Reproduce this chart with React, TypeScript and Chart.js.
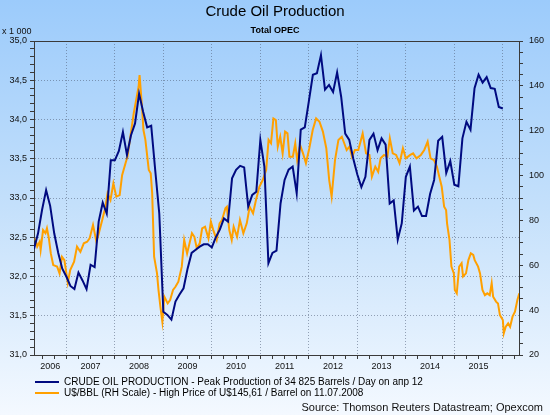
import React, { useEffect, useRef } from 'react';
import { Chart, registerables } from 'chart.js';

Chart.register(...registerables);

const FONT = "'Liberation Sans', Arial, Helvetica, sans-serif";

const TITLE = 'Crude Oil Production';
const SUBTITLE = 'Total OPEC';
const UNIT_LABEL = 'x 1 000';
const SOURCE = 'Source: Thomson Reuters Datastream; Opexcom';
const PROD_LABEL = 'CRUDE OIL PRODUCTION - Peak Production of 34 825 Barrels / Day on апр 12';
const PRICE_LABEL = 'U$/BBL (RH Scale) - High Price of U$145,61 / Barrel on 11.07.2008';

const yearLabels = [2006, 2007, 2008, 2009, 2010, 2011, 2012, 2013, 2014, 2015];
const X_MIN = 2006 + 4 / 12;
const X_MAX = 2016 + 4 / 12;

// monthly OPEC crude production (x 1 000 barrels/day), starting May 2006
const productionStartYear = 2006;
const productionStartMonth = 5;
const production = [
  32.35, 32.55, 32.85, 33.1, 32.9, 32.55, 32.3, 32.1, 32.0, 31.88,
  31.84, 32.05, 31.95, 31.84, 32.15, 32.12, 32.7, 32.94, 32.8, 33.48,
  33.48, 33.6, 33.84, 33.55, 33.8, 33.95, 34.33, 34.1, 33.9, 33.92,
  33.35, 32.8, 31.55, 31.51, 31.45, 31.68, 31.77, 31.85, 32.1, 32.3,
  32.34, 32.38, 32.41, 32.41, 32.37, 32.5, 32.6, 32.74, 32.7, 33.25,
  33.36, 33.41, 33.39, 32.89, 33.04, 33.08, 33.74, 33.4, 32.17, 32.3,
  32.33, 32.93, 33.23, 33.36, 33.4, 33.06, 33.87, 33.9, 34.23, 34.57,
  34.59, 34.82, 34.38, 34.44, 34.35, 34.6, 34.29, 33.82, 33.74, 33.5,
  33.3, 33.14, 33.27, 33.74, 33.82, 33.61, 33.76, 33.68, 32.93, 32.97,
  32.47, 32.68, 33.27, 33.4, 32.84, 32.89, 32.77, 32.77, 33.05, 33.23,
  33.73, 33.78, 33.32, 33.47, 33.17, 33.15, 33.76, 33.97, 33.87, 34.4,
  34.57, 34.47, 34.54, 34.4, 34.39, 34.16, 34.14,
];

// oil price U$/BBL (right-hand scale), dates as decimal years
const priceDates = [
  2006.36, 2006.40, 2006.45, 2006.47, 2006.52, 2006.57, 2006.60, 2006.64, 2006.68, 2006.73, 2006.81, 2006.86, 2006.91, 2006.96,
  2007.03, 2007.08, 2007.16, 2007.22, 2007.29, 2007.36, 2007.43, 2007.48, 2007.55, 2007.62, 2007.67, 2007.74, 2007.80, 2007.85, 2007.91, 2007.97,
  2008.03, 2008.10, 2008.15, 2008.22, 2008.26, 2008.32, 2008.39, 2008.44, 2008.49, 2008.51, 2008.56, 2008.59, 2008.63, 2008.70, 2008.74, 2008.77, 2008.81, 2008.87, 2008.90, 2008.94, 2008.98,
  2009.02, 2009.09, 2009.14, 2009.20, 2009.25, 2009.31, 2009.38, 2009.43, 2009.49, 2009.54, 2009.59, 2009.64, 2009.69, 2009.75, 2009.80, 2009.86, 2009.93, 2009.98,
  2010.03, 2010.10, 2010.16, 2010.21, 2010.28, 2010.31, 2010.36, 2010.41, 2010.45, 2010.52, 2010.58, 2010.65, 2010.72, 2010.78, 2010.85, 2010.91, 2010.98,
  2011.05, 2011.12, 2011.17, 2011.22, 2011.27, 2011.32, 2011.36, 2011.41, 2011.46, 2011.51, 2011.56, 2011.60, 2011.67, 2011.72, 2011.76, 2011.82, 2011.88, 2011.94,
  2012.01, 2012.08, 2012.15, 2012.22, 2012.29, 2012.36, 2012.42, 2012.47, 2012.54, 2012.61, 2012.68, 2012.73, 2012.78, 2012.84, 2012.89, 2012.95,
  2013.02, 2013.11, 2013.18, 2013.25, 2013.30, 2013.37, 2013.43, 2013.48, 2013.55, 2013.62, 2013.67, 2013.73, 2013.80, 2013.87, 2013.94,
  2014.00, 2014.09, 2014.15, 2014.22, 2014.31, 2014.38, 2014.45, 2014.51, 2014.58, 2014.64, 2014.69, 2014.74, 2014.79, 2014.83, 2014.85, 2014.90, 2014.94, 2014.99,
  2015.01, 2015.05, 2015.10, 2015.15, 2015.18, 2015.24, 2015.29, 2015.34, 2015.39, 2015.42, 2015.49, 2015.53, 2015.58, 2015.63, 2015.68, 2015.73, 2015.77, 2015.80, 2015.86, 2015.90, 2015.94,
  2016.00, 2016.02, 2016.06, 2016.11, 2016.15, 2016.20, 2016.25, 2016.30, 2016.34,
];
const priceValues = [
  72.0, 68.3, 70.5, 66.8, 75.7, 74.3, 76.5, 72.0, 65.3, 60.1, 59.4, 56.4, 63.8, 62.3,
  52.2, 57.9, 61.6, 68.3, 66.0, 69.8, 70.5, 72.0, 78.0, 70.5, 74.3, 80.2, 85.4, 92.1, 89.1, 96.5,
  90.6, 91.3, 100.2, 105.5, 108.4, 117.3, 127.8, 133.7, 139.6, 144.8, 130.7, 120.3, 115.9, 102.5, 101.0, 92.1, 63.8, 56.4, 49.0, 41.5, 34.8,
  46.0, 43.0, 44.5, 49.0, 50.4, 52.7, 59.4, 71.3, 65.3, 69.8, 74.3, 72.7, 67.6, 69.8, 76.5, 77.2, 72.0, 79.4,
  75.7, 71.3, 78.7, 80.2, 85.4, 86.1, 75.7, 71.3, 77.2, 72.7, 80.2, 74.3, 78.7, 86.1, 83.2, 89.1, 95.0,
  98.0, 102.5, 115.9, 114.4, 125.5, 124.8, 112.9, 117.3, 109.9, 119.6, 118.8, 108.4, 108.4, 114.4, 106.9, 113.6, 109.9, 105.5,
  112.2, 120.3, 125.5, 124.0, 119.6, 112.2, 98.0, 90.6, 106.9, 115.9, 117.3, 114.4, 111.4, 112.9, 108.4, 111.4,
  111.4, 118.8, 109.9, 109.2, 99.5, 104.0, 101.7, 107.7, 109.2, 108.4, 116.6, 109.9, 109.2, 105.5, 112.2,
  107.7, 109.2, 109.9, 107.7, 109.2, 111.4, 115.1, 107.7, 106.9, 104.0, 99.5, 95.0, 86.1, 84.6, 78.7, 71.3, 59.4, 56.4,
  49.0, 47.5, 59.4, 60.9, 55.0, 56.4, 62.3, 65.3, 64.6, 62.3, 59.4, 56.4, 49.0, 46.7, 47.5, 46.7, 52.0, 46.0, 43.8, 43.0, 37.8,
  35.6, 29.7, 32.6, 34.1, 32.6, 37.1, 39.3, 44.5, 47.5,
];

const LEFT_MIN = 31;
const LEFT_MAX = 35;
const RIGHT_MIN = 20;
const RIGHT_MAX = 160;

const GRID = 'rgba(80,95,120,0.55)';
const AXIS = '#3a3a3a';
const BLUE = '#000a80';
const ORANGE = '#ffa000';

const near = (a: number, b: number) => Math.abs(a - b) < 1e-6;

const yearLabelPos = yearLabels.map((y) => (Math.max(y, X_MIN) + Math.min(y + 1, X_MAX)) / 2);

function xTicks() {
  const vals: number[] = [];
  for (let q = Math.ceil(X_MIN * 4); q <= Math.floor(X_MAX * 4); q++) vals.push(q / 4);
  yearLabelPos.forEach((p) => {
    if (!vals.some((v) => near(v, p))) vals.push(p);
  });
  vals.sort((a, b) => a - b);
  return vals.map((value) => ({ value }));
}

function stepTicks(min: number, max: number, step: number) {
  const out: { value: number }[] = [];
  const n = Math.round((max - min) / step);
  for (let i = 0; i <= n; i++) out.push({ value: Math.round((min + i * step) * 1000) / 1000 });
  return out;
}

const isQuarter = (v: number) => near(v * 4, Math.round(v * 4));
const isYear = (v: number) => near(v, Math.round(v));

const extraText = {
  id: 'extraText',
  afterDraw(chart: any) {
    const ctx = chart.ctx;
    ctx.save();
    ctx.fillStyle = '#111';
    ctx.textBaseline = 'middle';
    ctx.font = `9px ${FONT}`;
    ctx.textAlign = 'left';
    ctx.fillText(UNIT_LABEL, 2, 32);
    ctx.font = `11px ${FONT}`;
    ctx.textAlign = 'right';
    ctx.fillText(SOURCE, 543, 408);
    ctx.restore();
  },
};

export default function App() {
  const ref = useRef<HTMLCanvasElement | null>(null);

  useEffect(() => {
    if (!ref.current) return;
    const prodData = production.map((v, i) => ({
      x: productionStartYear + (productionStartMonth - 1 + i) / 12,
      y: v,
    }));
    const priceData = priceDates.map((d, i) => ({ x: d, y: priceValues[i] }));

    const chart = new Chart(ref.current, {
      type: 'line',
      data: {
        datasets: [
          {
            label: PROD_LABEL,
            data: prodData,
            borderColor: BLUE,
            backgroundColor: BLUE,
            borderWidth: 2,
            pointRadius: 0,
            tension: 0,
            yAxisID: 'y',
          },
          {
            label: PRICE_LABEL,
            data: priceData,
            borderColor: ORANGE,
            backgroundColor: ORANGE,
            borderWidth: 2,
            pointRadius: 0,
            tension: 0,
            yAxisID: 'y1',
          },
        ],
      },
      options: {
        responsive: false,
        maintainAspectRatio: false,
        animation: false,
        devicePixelRatio: 1,
        layout: { padding: { top: 3, bottom: 7, left: 0, right: 0 } },
        plugins: {
          tooltip: { enabled: false },
          title: {
            display: true,
            text: TITLE,
            color: '#000',
            font: { size: 15, family: FONT, weight: 'normal' },
            padding: { top: 0, bottom: 0 },
          },
          subtitle: {
            display: true,
            text: SUBTITLE,
            color: '#000',
            font: { size: 9, family: FONT, weight: 'bold' },
            padding: { top: 4, bottom: 5.2 },
          },
          legend: {
            position: 'bottom',
            align: 'start',
            fullSize: false,
            labels: {
              usePointStyle: true,
              pointStyle: 'line',
              pointStyleWidth: 24,
              boxHeight: 10,
              padding: 1,
              color: '#000',
              font: { size: 10, family: FONT },
            },
          },
        },
        scales: {
          x: {
            type: 'linear',
            min: X_MIN,
            max: X_MAX,
            afterBuildTicks: (axis: any) => {
              axis.ticks = xTicks();
            },
            afterFit: (axis: any) => {
              axis.height = 21;
            },
            ticks: {
              autoSkip: false,
              maxRotation: 0,
              minRotation: 0,
              padding: 2,
              color: '#111',
              font: { size: 9, family: FONT },
              callback: (value: any) => {
                const idx = yearLabelPos.findIndex((p) => near(p, Number(value)));
                return idx >= 0 ? String(yearLabels[idx]) : '';
              },
            },
            grid: {
              color: (ctx: any) => (ctx.tick && isYear(ctx.tick.value) ? GRID : 'transparent'),
              tickColor: (ctx: any) => (ctx.tick && isQuarter(ctx.tick.value) ? AXIS : 'transparent'),
              tickLength: 4,
              lineWidth: 1,
            },
            border: { display: true, color: AXIS, width: 1, dash: [1, 2] },
          },
          y: {
            type: 'linear',
            position: 'left',
            min: LEFT_MIN,
            max: LEFT_MAX,
            afterBuildTicks: (axis: any) => {
              axis.ticks = stepTicks(LEFT_MIN, LEFT_MAX, 0.1);
            },
            afterFit: (axis: any) => {
              axis.width = 34;
            },
            ticks: {
              autoSkip: false,
              padding: 3,
              color: '#111',
              font: { size: 9, family: FONT },
              callback: (value: any) => {
                const v = Number(value);
                return near(v * 2, Math.round(v * 2)) ? v.toFixed(1).replace('.', ',') : '';
              },
            },
            grid: {
              color: (ctx: any) => {
                const v = ctx.tick ? ctx.tick.value : NaN;
                if (near(v, LEFT_MAX)) return AXIS;
                if (near(v, LEFT_MIN)) return 'transparent';
                return near(v * 2, Math.round(v * 2)) ? GRID : 'transparent';
              },
              tickColor: AXIS,
              tickLength: 4,
              lineWidth: 1,
            },
            border: {
              display: true,
              color: AXIS,
              width: 1,
              dash: (ctx: any) => (ctx.tick && near(ctx.tick.value, LEFT_MAX) ? [] : [1, 2]),
            },
          },
          y1: {
            type: 'linear',
            position: 'right',
            min: RIGHT_MIN,
            max: RIGHT_MAX,
            afterBuildTicks: (axis: any) => {
              axis.ticks = stepTicks(RIGHT_MIN, RIGHT_MAX, 5);
            },
            afterFit: (axis: any) => {
              axis.width = 31;
            },
            ticks: {
              autoSkip: false,
              padding: 6,
              color: '#111',
              font: { size: 9, family: FONT },
              callback: (value: any) => (Number(value) % 20 === 0 ? String(value) : ''),
            },
            grid: {
              drawOnChartArea: false,
              tickColor: AXIS,
              tickLength: 4,
            },
            border: { display: true, color: AXIS, width: 1 },
          },
        },
      } as any,
      plugins: [extraText],
    });
    return () => chart.destroy();
  }, []);

  return (
    <div
      style={{
        position: 'fixed',
        left: 0,
        top: 0,
        width: 550,
        height: 415,
        background: 'linear-gradient(to bottom, #9ccbfb 0%, #c4e0fb 50%, #f4f9ff 100%)',
      }}
    >
      <canvas ref={ref} width={550} height={415} style={{ display: 'block', width: 550, height: 415 }} />
    </div>
  );
}
